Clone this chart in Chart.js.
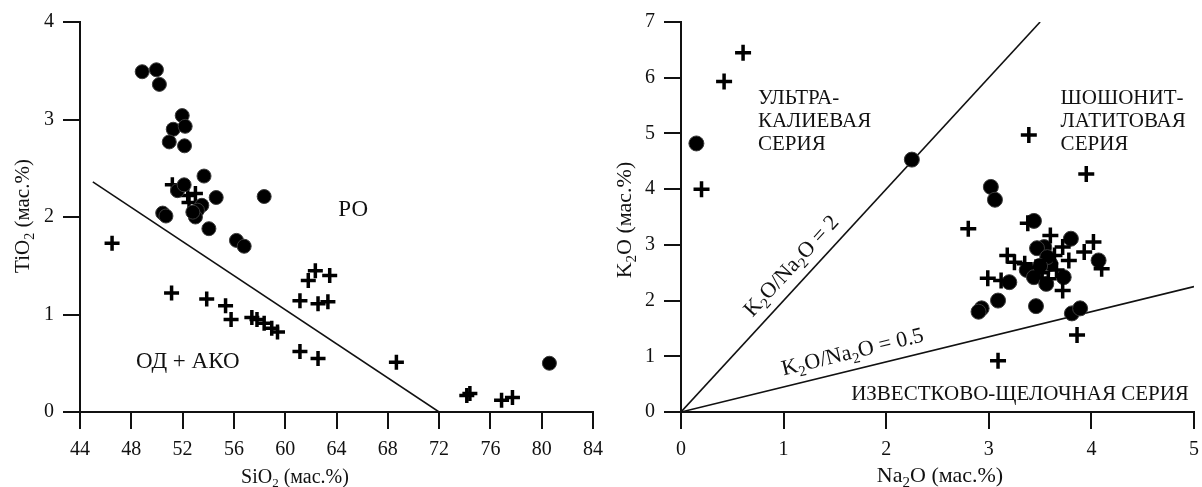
<!DOCTYPE html>
<html>
<head>
<meta charset="utf-8">
<script src="https://cdn.jsdelivr.net/npm/chart.js"></script>
<style>
  body { margin: 0; background: #fff; overflow: hidden; width: 1202px; height: 487px; position: relative; }
  canvas { position: absolute; top: 0; }
  #leftChart { left: 0; }
  #rightChart { left: 608px; }
</style>
</head>
<body>
<canvas id="leftChart" width="612" height="487"></canvas>
<canvas id="rightChart" width="600" height="487"></canvas>
<script>
// ---- left diagram: SiO2 vs TiO2 ----
const tiCircles = [
  [48.85, 3.49], [49.96, 3.51], [50.19, 3.36], [51.97, 3.04], [51.27, 2.90],
  [52.2, 2.93], [50.96, 2.77], [52.15, 2.73], [53.67, 2.42], [51.6, 2.27],
  [52.12, 2.33], [54.62, 2.20], [58.36, 2.21], [50.45, 2.04], [50.7, 2.01],
  [53.5, 2.12], [53.16, 2.07], [53.0, 2.00], [52.8, 2.05], [54.05, 1.88],
  [56.2, 1.76], [56.8, 1.70], [80.6, 0.50]
];
const tiCrosses = [
  [46.5, 1.73], [51.2, 2.33], [52.4, 2.22], [53.0, 2.24], [52.5, 2.15],
  [51.14, 1.22], [53.88, 1.16], [55.35, 1.09], [55.78, 0.95], [57.4, 0.97],
  [57.8, 0.95], [58.36, 0.91], [58.95, 0.86], [59.4, 0.82], [61.15, 1.14],
  [62.56, 1.11], [63.33, 1.13], [61.8, 1.35], [62.35, 1.45], [63.47, 1.40],
  [61.15, 0.62], [62.56, 0.55], [68.67, 0.51], [74.16, 0.17], [74.4, 0.19],
  [76.87, 0.12], [77.72, 0.15]
];
const tiBoundary = [[45, 2.36], [72, 0]];

// ---- right diagram: Na2O vs K2O ----
const kCircles = [
  [0.15, 4.82], [2.25, 4.53], [3.02, 4.04], [3.06, 3.81], [3.44, 3.43],
  [3.80, 3.11], [3.54, 2.96], [3.47, 2.94], [4.07, 2.72], [3.60, 2.66],
  [3.57, 2.78], [3.37, 2.55], [3.20, 2.33], [3.44, 2.42], [3.56, 2.30],
  [3.73, 2.42], [3.50, 2.62], [2.93, 1.86], [2.90, 1.80], [3.09, 2.00],
  [3.46, 1.90], [3.81, 1.77], [3.89, 1.86]
];
const kCrosses = [
  [0.605, 6.45], [0.42, 5.93], [0.20, 4.00], [3.39, 4.97], [3.95, 4.27],
  [2.80, 3.29], [3.38, 3.39], [3.60, 3.17], [3.72, 2.96], [4.02, 3.05],
  [3.93, 2.87], [4.10, 2.57], [3.18, 2.81], [3.25, 2.69], [3.35, 2.66],
  [3.46, 2.60], [3.54, 2.72], [3.64, 2.81], [3.78, 2.72], [2.99, 2.40],
  [3.12, 2.36], [3.58, 2.39], [3.72, 2.18], [3.86, 1.38], [3.09, 0.92],
  [3.52, 2.50], [3.66, 2.55]
];
const ratio2Line = [[0, 0], [3.5, 7]];
const ratio05Line = [[0, 0], [5, 2.25]];

const FONT = '"Liberation Serif", "Times New Roman", serif';
const INK = '#111';

function pts(list) {
  return list.map(p => ({ x: p[0], y: p[1] }));
}

// text with "_x" meaning subscript x
function drawRich(ctx, str, x, y, size, align) {
  const parts = [];
  for (let i = 0; i < str.length; i++) {
    if (str[i] === '_') {
      parts.push({ t: str[i + 1], sub: true });
      i++;
    } else if (parts.length && !parts[parts.length - 1].sub) {
      parts[parts.length - 1].t += str[i];
    } else {
      parts.push({ t: str[i], sub: false });
    }
  }
  const big = size + 'px ' + FONT;
  const small = Math.round(size * 0.66) + 'px ' + FONT;
  let total = 0;
  parts.forEach(p => {
    ctx.font = p.sub ? small : big;
    p.w = ctx.measureText(p.t).width;
    total += p.w;
  });
  let cx = x;
  if (align === 'center') cx = x - total / 2;
  if (align === 'right') cx = x - total;
  ctx.fillStyle = INK;
  ctx.textAlign = 'left';
  ctx.textBaseline = 'alphabetic';
  const base = y + size * 0.33;
  parts.forEach(p => {
    ctx.font = p.sub ? small : big;
    ctx.fillText(p.t, cx, p.sub ? base + size * 0.22 : base);
    cx += p.w;
  });
}

function axis(min, max, step, fit) {
  return {
    type: 'linear',
    min: min,
    max: max,
    ticks: {
      stepSize: step,
      color: INK,
      font: { family: FONT, size: 20 },
      padding: 9,
      autoSkip: false,
      maxRotation: 0
    },
    grid: {
      drawOnChartArea: false,
      drawTicks: true,
      tickLength: 17,
      tickWidth: 2,
      tickColor: INK,
      color: INK,
      lineWidth: 2
    },
    border: { display: true, color: INK, width: 2 },
    afterFit: fit
  };
}

// labels drawn after the chart, anchored to data values
const notesPlugin = {
  id: 'notes',
  afterDraw(chart, args, opts) {
    const ctx = chart.ctx;
    const xs = chart.scales.x, ys = chart.scales.y;
    ctx.save();
    (opts.labels || []).forEach(l => {
      drawRich(ctx, l.text, xs.getPixelForValue(l.x), ys.getPixelForValue(l.y), l.size, l.align);
    });
    (opts.slanted || []).forEach(l => {
      const a = l.along;
      const dx = xs.getPixelForValue(a[1][0]) - xs.getPixelForValue(a[0][0]);
      const dy = ys.getPixelForValue(a[1][1]) - ys.getPixelForValue(a[0][1]);
      ctx.save();
      ctx.translate(xs.getPixelForValue(l.x), ys.getPixelForValue(l.y));
      ctx.rotate(Math.atan2(dy, dx));
      drawRich(ctx, l.text, 0, 0, l.size, 'center');
      ctx.restore();
    });
    // axis titles
    const t = opts.titles;
    drawRich(ctx, t.x, t.xPos[0], t.xPos[1], t.xSize, 'center');
    ctx.save();
    ctx.translate(t.yPos[0], t.yPos[1]);
    ctx.rotate(-Math.PI / 2);
    drawRich(ctx, t.y, 0, 0, t.ySize, 'center');
    ctx.restore();
    ctx.restore();
  }
};

const baseOptions = {
  responsive: false,
  animation: false,
  plugins: { legend: { display: false }, tooltip: { enabled: false } }
};

new Chart(document.getElementById('leftChart'), {
  type: 'scatter',
  plugins: [notesPlugin],
  data: {
    datasets: [
      {
        data: pts(tiCircles),
        pointStyle: 'circle', pointRadius: 7,
        backgroundColor: '#000', borderColor: '#3a3a3a', borderWidth: 1
      },
      {
        data: pts(tiCrosses),
        pointStyle: 'cross', pointRadius: 7.5,
        borderColor: '#000', borderWidth: 3.5
      },
      {
        data: pts(tiBoundary),
        showLine: true, pointRadius: 0,
        borderColor: '#111', borderWidth: 1.6
      }
    ]
  },
  options: Object.assign({}, baseOptions, {
    layout: { padding: { left: 0, right: 15, top: 22, bottom: 0 } },
    scales: {
      x: axis(44, 84, 4, s => { s.height = 75; }),
      y: axis(0, 4, 1, s => { s.width = 80; })
    },
    plugins: Object.assign({}, baseOptions.plugins, {
      notes: {
        labels: [
          { text: 'РО', x: 65.3, y: 2.09, size: 23, align: 'center' },
          { text: 'ОД + АКО', x: 52.4, y: 0.53, size: 23, align: 'center' }
        ],
        titles: {
          x: 'SiO_2 (мас.%)', xPos: [295, 476], xSize: 20,
          y: 'TiO_2 (мас.%)', yPos: [22, 216], ySize: 21
        }
      }
    })
  })
});

new Chart(document.getElementById('rightChart'), {
  type: 'scatter',
  plugins: [notesPlugin],
  data: {
    datasets: [
      {
        data: pts(kCrosses),
        pointStyle: 'cross', pointRadius: 8,
        borderColor: '#000', borderWidth: 3.5
      },
      {
        data: pts(kCircles),
        pointStyle: 'circle', pointRadius: 7.5,
        backgroundColor: '#000', borderColor: '#3a3a3a', borderWidth: 1
      },
      {
        data: pts(ratio2Line),
        showLine: true, pointRadius: 0,
        borderColor: '#111', borderWidth: 1.6
      },
      {
        data: pts(ratio05Line),
        showLine: true, pointRadius: 0,
        borderColor: '#111', borderWidth: 1.6
      }
    ]
  },
  options: Object.assign({}, baseOptions, {
    layout: { padding: { left: 0, right: 10, top: 22, bottom: 0 } },
    scales: {
      x: axis(0, 5, 1, s => { s.height = 75; }),
      y: axis(0, 7, 1, s => { s.width = 73; })
    },
    plugins: Object.assign({}, baseOptions.plugins, {
      notes: {
        labels: [
          { text: 'УЛЬТРА-', x: 0.75, y: 5.65, size: 21, align: 'left' },
          { text: 'КАЛИЕВАЯ', x: 0.75, y: 5.24, size: 21, align: 'left' },
          { text: 'СЕРИЯ', x: 0.75, y: 4.82, size: 21, align: 'left' },
          { text: 'ШОШОНИТ-', x: 3.70, y: 5.65, size: 21, align: 'left' },
          { text: 'ЛАТИТОВАЯ', x: 3.70, y: 5.24, size: 21, align: 'left' },
          { text: 'СЕРИЯ', x: 3.70, y: 4.82, size: 21, align: 'left' },
          { text: 'ИЗВЕСТКОВО-ЩЕЛОЧНАЯ СЕРИЯ', x: 4.95, y: 0.34, size: 21, align: 'right' }
        ],
        slanted: [
          { text: 'K_2O/Na_2O = 2', x: 1.07, y: 2.63, size: 22, along: ratio2Line },
          { text: 'K_2O/Na_2O = 0.5', x: 1.67, y: 1.09, size: 22, along: ratio05Line }
        ],
        titles: {
          x: 'Na_2O (мас.%)', xPos: [332, 475], xSize: 22,
          y: 'K_2O (мас.%)', yPos: [16, 220], ySize: 22
        }
      }
    })
  })
});
</script>
</body>
</html>
